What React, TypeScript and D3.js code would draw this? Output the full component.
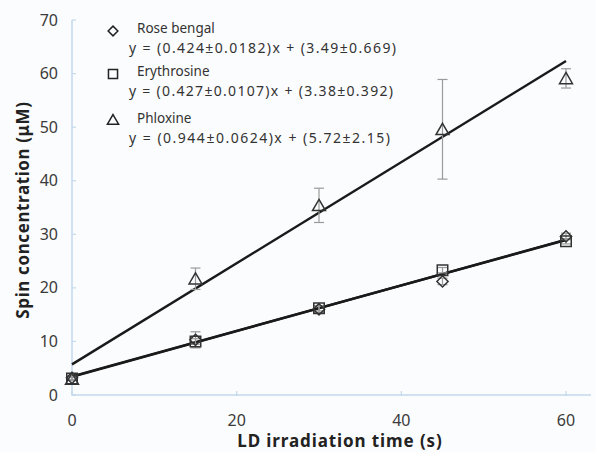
import { FC, useEffect, useRef } from 'react';
import * as d3 from 'd3';

// irradiation times (s)
const times = [0, 15, 30, 45, 60];

const roseBengal = [3.2, 10.3, 16.0, 21.2, 29.6];
const roseBengalErr = [0.3, 1.5, 0.6, 0.6, 0.6];
const erythrosine = [3.1, 10.0, 16.2, 23.3, 28.7];
const erythrosineErr = [0.3, 0.5, 0.5, 0.5, 0.5];
const phloxine = [3.0, 21.7, 35.4, 49.6, 59.1];
const phloxineErr = [0.3, 2.0, 3.2, 9.3, 1.8];

const seriesNames = ['Rose bengal', 'Erythrosine', 'Phloxine'];
const equations = [
    'y = (0.424\u00b10.0182)x + (3.49\u00b10.669)',
    'y = (0.427\u00b10.0107)x + (3.38\u00b10.392)',
    'y = (0.944\u00b10.0624)x + (5.72\u00b12.15)',
];
const slopes = [0.424, 0.427, 0.944];
const intercepts = [3.49, 3.38, 5.72];

const xTicks = [0, 20, 40, 60];
const yTicks = [0, 10, 20, 30, 40, 50, 60, 70];

const App: FC = () => {
    const svgRef = useRef<SVGSVGElement>(null);

    function draw() {
        const width = 596;
        const height = 452;
        const font = "'Noto Sans', 'DejaVu Sans', sans-serif";

        document.body.style.margin = '0';

        const svg = d3.select(svgRef.current)
            .attr('width', width)
            .attr('height', height);
        svg.selectAll('*').remove();

        svg.append('rect')
            .attr('width', width)
            .attr('height', height)
            .attr('fill', '#fbfcfd');

        const x = d3.scaleLinear().domain([0, 60]).range([72, 566]);
        const y = d3.scaleLinear().domain([0, 70]).range([395, 20]);

        const axisColor = '#c3d9ec';

        // axes lines
        svg.append('line')
            .attr('x1', x(0)).attr('x2', x(0))
            .attr('y1', y(70)).attr('y2', y(0))
            .attr('stroke', axisColor).attr('stroke-width', 1.5);
        svg.append('line')
            .attr('x1', x(0)).attr('x2', width - 5)
            .attr('y1', y(0)).attr('y2', y(0))
            .attr('stroke', axisColor).attr('stroke-width', 1.5);

        svg.selectAll('.ytick')
            .data(yTicks)
            .enter()
            .append('line')
            .attr('x1', x(0)).attr('x2', x(0) + 4)
            .attr('y1', d => y(d)).attr('y2', d => y(d))
            .attr('stroke', axisColor).attr('stroke-width', 1.2);

        svg.selectAll('.xtick')
            .data(xTicks)
            .enter()
            .append('line')
            .attr('x1', d => x(d)).attr('x2', d => x(d))
            .attr('y1', y(0) - 4).attr('y2', y(0) + 1)
            .attr('stroke', axisColor).attr('stroke-width', 1.2);

        svg.selectAll('.ylabel')
            .data(yTicks)
            .enter()
            .append('text')
            .attr('x', x(0) - 14)
            .attr('y', d => y(d))
            .attr('dy', '0.35em')
            .attr('text-anchor', 'end')
            .attr('font-family', font)
            .attr('font-size', '16px')
            .attr('fill', '#3a3a3a')
            .text(d => d);

        svg.selectAll('.xlabel')
            .data(xTicks)
            .enter()
            .append('text')
            .attr('x', d => x(d))
            .attr('y', 420)
            .attr('dy', '0.35em')
            .attr('text-anchor', 'middle')
            .attr('font-family', font)
            .attr('font-size', '16px')
            .attr('fill', '#3a3a3a')
            .text(d => d);

        svg.append('text')
            .attr('x', 340)
            .attr('y', 447)
            .attr('text-anchor', 'middle')
            .attr('font-family', font)
            .attr('font-weight', 'bold')
            .attr('font-size', '17px')
            .attr('letter-spacing', '0.9px')
            .attr('fill', '#222')
            .text('LD irradiation time (s)');

        svg.append('text')
            .attr('transform', 'translate(29,210) rotate(-90)')
            .attr('text-anchor', 'middle')
            .attr('font-family', font)
            .attr('font-weight', 'bold')
            .attr('font-size', '17px')
            .attr('letter-spacing', '0.6px')
            .attr('fill', '#222')
            .text('Spin concentration (\u03bcM)');

        // regression lines
        slopes.forEach((m, i) => {
            svg.append('line')
                .attr('x1', x(0)).attr('y1', y(intercepts[i]))
                .attr('x2', x(60)).attr('y2', y(m * 60 + intercepts[i]))
                .attr('stroke', '#1a1a1a')
                .attr('stroke-width', 2.4);
        });

        const symbols = [d3.symbolDiamond2, d3.symbolSquare2, d3.symbolTriangle2];
        const sizes = [80, 140, 120];
        const values = [roseBengal, erythrosine, phloxine];
        const errors = [roseBengalErr, erythrosineErr, phloxineErr];

        // error bars
        values.forEach((vals, i) => {
            const g = svg.append('g')
                .attr('stroke', '#9a9a9a')
                .attr('stroke-width', 1.2);
            times.forEach((t, j) => {
                const e = errors[i][j];
                const cx = x(t);
                g.append('line')
                    .attr('x1', cx).attr('x2', cx)
                    .attr('y1', y(vals[j] - e)).attr('y2', y(vals[j] + e));
                [vals[j] - e, vals[j] + e].forEach(v => {
                    g.append('line')
                        .attr('x1', cx - 5).attr('x2', cx + 5)
                        .attr('y1', y(v)).attr('y2', y(v));
                });
            });
        });

        // markers
        values.forEach((vals, i) => {
            const sym = d3.symbol().type(symbols[i]).size(sizes[i]);
            svg.selectAll('.m' + i)
                .data(times)
                .enter()
                .append('path')
                .attr('d', sym)
                .attr('transform', (t, j) => `translate(${x(t)},${y(vals[j]) + (i === 2 ? 1.5 : 0)})`)
                .attr('fill', 'none')
                .attr('stroke', '#333')
                .attr('stroke-width', 1.5);
        });

        // legend
        const legendY = [31, 74, 121];
        const eqWidths = [267, 264, 261];
        seriesNames.forEach((name, i) => {
            const sym = d3.symbol().type(symbols[i]).size(sizes[i] * 0.75);
            svg.append('path')
                .attr('d', sym)
                .attr('transform', `translate(113,${legendY[i]})`)
                .attr('fill', 'none')
                .attr('stroke', '#222')
                .attr('stroke-width', 1.5);
            svg.append('text')
                .attr('x', 137)
                .attr('y', legendY[i] + 2)
                .attr('font-family', font)
                .attr('font-size', '13.5px')
                .attr('fill', '#333')
                .text(name);
            svg.append('text')
                .attr('x', 129)
                .attr('y', legendY[i] + 22)
                .attr('font-family', font)
                .attr('font-size', '14px')
                .attr('textLength', eqWidths[i])
                .attr('lengthAdjust', 'spacing')
                .attr('fill', '#333')
                .text(equations[i]);
        });
    }

    useEffect(() => {
        draw();
    }, []);

    return <svg ref={svgRef} style={{ display: 'block' }}></svg>;
};

export default App;
